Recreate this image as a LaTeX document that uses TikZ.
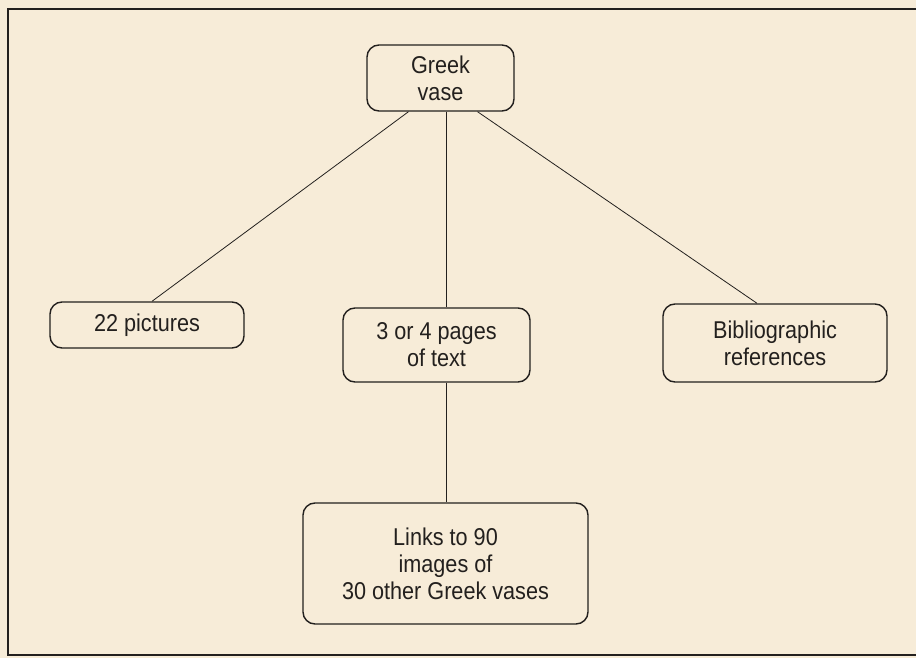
\documentclass[tikz,border=0pt]{standalone}
\usepackage{fontspec}
\setmainfont{Liberation Sans}[FakeStretch=0.89]
\usetikzlibrary{calc}
\definecolor{paper}{RGB}{247,236,216}
\definecolor{ink}{RGB}{35,32,30}
\tikzset{
  vbox/.style={draw=ink, line width=1.4bp, rounded corners=12bp, align=center,
    font=\fontsize{24.4}{27}\selectfont, text=ink, inner sep=0pt},
  link/.style={draw=ink, line width=0.8bp},
  frame/.style={draw=ink, line width=2bp}
}
\begin{document}
\begin{tikzpicture}[x=1bp,y=-1bp]
\fill[paper] (0,0) rectangle (916,658);
\useasboundingbox (0,0) rectangle (916,658);
\draw[frame] (916,9.5) -- (8,9.5) -- (8,655) -- (916,655);
\node[vbox, minimum width=147bp, minimum height=66bp] (greek) at (440.5,78) {Greek\\vase};
\node[vbox, minimum width=194bp, minimum height=46bp] (pics) at (147,325) {22 pictures};
\node[vbox, minimum width=187bp, minimum height=74bp] (text) at (436.5,345) {3 or 4 pages\\of text};
\node[vbox, minimum width=224bp, minimum height=78bp] (bib) at (775,343) {Bibliographic\\references};
\node[vbox, minimum width=285bp, minimum height=121bp] (links) at (445.5,563.5) {Links to 90\\images of\\30 other Greek vases};
\coordinate (gl) at ([xshift=-32bp]greek.south);
\coordinate (gc) at ([xshift=5.5bp]greek.south);
\coordinate (gr) at ([xshift=37bp]greek.south);
\coordinate (pt) at ([xshift=5bp]pics.north);
\coordinate (bt) at ([xshift=-18bp]bib.north);
\draw[link] (gl) -- (pt);
\draw[link] (gr) -- (bt);
\draw[link] (gc) -- (gc |- text.north);
\draw[link] (gc |- text.south) -- (gc |- links.north);
\end{tikzpicture}
\end{document}
